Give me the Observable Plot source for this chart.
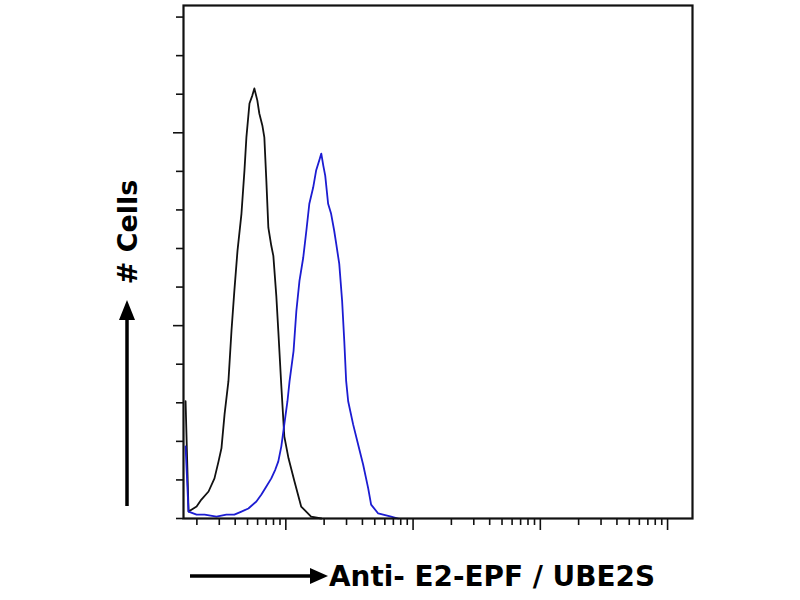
<!DOCTYPE html>
<html><head><meta charset="utf-8">
<script src="https://cdn.jsdelivr.net/npm/d3@7"></script>
<script src="https://cdn.jsdelivr.net/npm/@observablehq/plot@0.6"></script>
<style>body{margin:0;background:#fff}</style>
</head><body><div id="chart"></div>
<script>
// Control (black) histogram: fluorescence intensity (log) vs cell count
const controlX = [1.63,1.72,1.99,2.17,2.47,2.75,2.96,3.12,3.30,3.54,3.74,3.94,4.17,4.48,4.73,4.90,5.18,5.46,5.66,5.97,6.19,6.54,6.78,7.03,7.29,7.69,7.98,8.42,8.73,9.22,9.73,10.5,11.7,13.2,15.8,19.0];
const controlCount = [30.4,1.8,3.1,4.9,7.0,10.4,14.8,18.2,27.0,35.6,48.6,59.0,69.4,79.0,90.2,98.8,107.6,109.7,111.5,108.4,105.0,101.9,98.8,87.6,75.4,70.7,68.1,57.7,48.6,34.3,21.3,15.6,9.6,3.1,0.5,0];
// Anti-E2-EPF / UBE2S stained (blue) histogram
const stainedX = [1.63,1.72,1.99,2.30,2.85,3.41,3.94,4.48,5.08,5.87,6.43,7.03,7.69,8.27,8.73,9.22,9.73,10.3,10.7,11.5,12.1,12.8,13.7,14.5,15.3,16.4,17.3,18.3,19.0,19.7,20.4,21.5,22.7,24.0,24.9,26.3,27.7,28.8,29.8,30.9,33.8,37.0,40.5,44.4,46.8,53.2,67.2,76.3];
const stainedCount = [18.7,1.8,1.0,1.0,0.5,1.0,1.0,1.8,2.6,4.4,6.2,8.3,10.4,12.7,14.8,18.7,24.4,30.4,35.6,43.4,53.8,61.6,67.6,74.6,81.6,85.8,90.2,92.8,94.6,91.5,88.9,81.6,79.0,74.6,71.2,66.0,56.4,46.0,35.6,30.4,24.4,19.2,14.0,7.8,3.6,1.3,0.5,0];

const yMinorTicks = [0,10,20,30,40,60,70,80,90,110,120,130];
const yMajorTicks = [50,100];
const xMajorTicks = [10,100,1000,10000];
const xMinorTicks = [2,3,4,5,6,7,8,9,20,30,40,50,60,70,80,90,200,300,400,500,600,700,800,900,2000,3000,4000,5000,6000,7000,8000,9000];

const xLabel = "Anti- E2-EPF / UBE2S";
const yLabel = "# Cells";

const control = controlX.map((x,i)=>({x, y: controlCount[i]}));
const stained = stainedX.map((x,i)=>({x, y: stainedCount[i]}));

const plot = Plot.plot({
  width: 800,
  height: 600,
  marginLeft: 183,
  marginRight: 108,
  marginTop: 5,
  marginBottom: 82,
  style: {background: "#fff"},
  x: {type: "log", domain: [1.57, 15700]},
  y: {domain: [0, 133]},
  marks: [
    Plot.axisY(yMinorTicks, {tickSize: 7, tickFormat: () => "", stroke: "#111", strokeWidth: 1.6, label: null}),
    Plot.axisY(yMajorTicks, {tickSize: 10, tickFormat: () => "", stroke: "#111", strokeWidth: 1.6, label: null}),
    Plot.axisX(xMinorTicks, {tickSize: 7, tickFormat: () => "", stroke: "#111", strokeWidth: 1.6, label: null}),
    Plot.axisX(xMajorTicks, {tickSize: 12, tickFormat: () => "", stroke: "#111", strokeWidth: 1.6, label: null}),
    Plot.line(control, {x: "x", y: "y", stroke: "#111", strokeWidth: 1.8}),
    Plot.line(stained, {x: "x", y: "y", stroke: "#1c1cd2", strokeWidth: 1.8}),
    Plot.frame({stroke: "#111", strokeWidth: 2.2})
  ]
});
document.getElementById("chart").appendChild(plot);

const svg = d3.select(plot);
// Y arrow
svg.append("line").attr("x1",127).attr("x2",127).attr("y1",506).attr("y2",318)
  .attr("stroke","#000").attr("stroke-width",3.5);
svg.append("path").attr("d","M127,300 L119,320 L135,320 Z").attr("fill","#000");
svg.append("text")
  .attr("transform","translate(137,232) rotate(-90)")
  .attr("text-anchor","middle")
  .attr("font-family","DejaVu Sans")
  .attr("font-weight","bold")
  .attr("font-size",27)
  .attr("fill","#000")
  .text(yLabel);
// X arrow
svg.append("line").attr("x1",190).attr("x2",312).attr("y1",576).attr("y2",576)
  .attr("stroke","#000").attr("stroke-width",3.5);
svg.append("path").attr("d","M328,576 L310,568 L310,584 Z").attr("fill","#000");
svg.append("text")
  .attr("x",329).attr("y",586)
  .attr("text-anchor","start")
  .attr("font-family","DejaVu Sans")
  .attr("font-weight","bold")
  .attr("font-size",28)
  .attr("textLength",326)
  .attr("lengthAdjust","spacingAndGlyphs")
  .attr("fill","#000")
  .text(xLabel);
</script>
</body></html>
